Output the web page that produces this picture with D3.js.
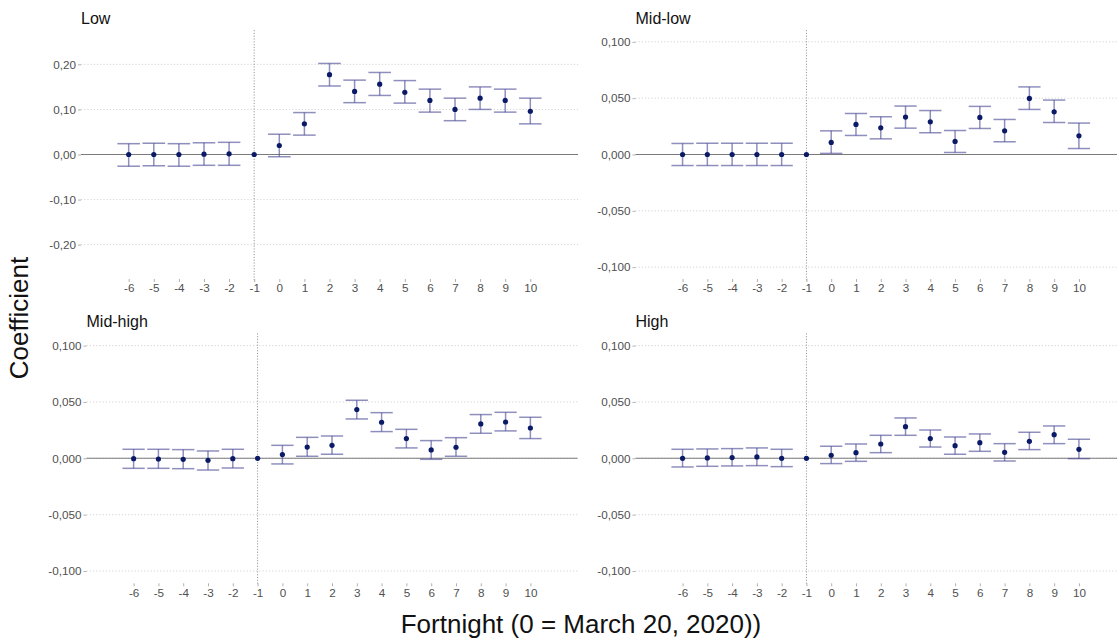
<!DOCTYPE html>
<html>
<head>
<meta charset="utf-8">
<script src="https://cdn.jsdelivr.net/npm/d3@7"></script>
<style>
  html, body { margin: 0; padding: 0; background: #fff; }
  svg { display: block; font-family: "Liberation Sans", Arial, sans-serif; }
</style>
</head>
<body>
<svg id="chart" width="1117" height="642"></svg>
<script>
// Event-study coefficients by income group, fortnight -6 … 10 (reference period: -1)
const fortnights = [-6, -5, -4, -3, -2, -1, 0, 1, 2, 3, 4, 5, 6, 7, 8, 9, 10];

const lowCoef = [0.000, 0.000, 0.000, 0.0007, 0.0015, 0, 0.020, 0.068, 0.177, 0.140, 0.156, 0.138, 0.120, 0.100, 0.125, 0.120, 0.096];
const lowLo   = [-0.026, -0.025, -0.026, -0.024, -0.024, null, -0.005, 0.043, 0.152, 0.115, 0.131, 0.114, 0.094, 0.075, 0.100, 0.094, 0.068];
const lowHi   = [0.024, 0.025, 0.024, 0.026, 0.027, null, 0.045, 0.093, 0.202, 0.165, 0.182, 0.164, 0.145, 0.125, 0.150, 0.145, 0.125];

const midLowCoef = [0, 0, 0, 0, 0, 0, 0.0107, 0.0267, 0.0237, 0.0332, 0.029, 0.0116, 0.0329, 0.021, 0.0498, 0.0379, 0.0166];
const midLowLo   = [-0.0098, -0.0098, -0.0098, -0.0098, -0.0098, null, 0.001, 0.0169, 0.0139, 0.0234, 0.0193, 0.0018, 0.0231, 0.0113, 0.040, 0.0284, 0.0053];
const midLowHi   = [0.0098, 0.0100, 0.0100, 0.0100, 0.0100, null, 0.021, 0.0364, 0.0335, 0.043, 0.039, 0.0213, 0.0427, 0.0311, 0.060, 0.0483, 0.0279];

const midHighCoef = [-0.0003, -0.0006, -0.0009, -0.0018, -0.0003, 0, 0.0033, 0.010, 0.0115, 0.0432, 0.032, 0.0175, 0.0074, 0.0098, 0.0305, 0.0322, 0.0269];
const midHighLo   = [-0.0089, -0.0089, -0.0092, -0.0104, -0.0086, null, -0.005, 0.0018, 0.0036, 0.0349, 0.0237, 0.0092, -0.0009, 0.0018, 0.0222, 0.0243, 0.0175];
const midHighHi   = [0.0080, 0.0080, 0.0077, 0.0065, 0.0080, null, 0.0115, 0.0186, 0.0198, 0.0515, 0.0405, 0.0257, 0.0157, 0.0183, 0.0388, 0.0408, 0.0364];

const highCoef = [0, 0.0003, 0.0006, 0.0012, 0, 0, 0.0027, 0.005, 0.0127, 0.0281, 0.0175, 0.0112, 0.0139, 0.0053, 0.0151, 0.021, 0.008];
const highLo   = [-0.0077, -0.0071, -0.0068, -0.0065, -0.0074, null, -0.0047, -0.0027, 0.005, 0.0204, 0.010, 0.0036, 0.0062, -0.0024, 0.0077, 0.013, -0.0003];
const highHi   = [0.0080, 0.0083, 0.0086, 0.0092, 0.0080, null, 0.0107, 0.0127, 0.0204, 0.0358, 0.0251, 0.0189, 0.0216, 0.013, 0.0231, 0.0287, 0.0169];

const lowTicks = [-0.2, -0.1, 0, 0.1, 0.2];
const otherTicks = [-0.1, -0.05, 0, 0.05, 0.1];

const fmt2 = v => d3.format(".2f")(v).replace("−", "-").replace(".", ",");
const fmt3 = v => d3.format(".3f")(v).replace("−", "-").replace(".", ",");

// Facet layout (pixel boxes of each panel)
const panels = [
  { title: "Low",      coef: lowCoef,     lo: lowLo,     hi: lowHi,     ticks: lowTicks,   fmt: fmt2, yLim: 0.2762,
    box: { left: 81,    right: 578,   top: 30,    bottom: 279 } },
  { title: "Mid-low",  coef: midLowCoef,  lo: midLowLo,  hi: midLowHi,  ticks: otherTicks, fmt: fmt3, yLim: 0.1105,
    box: { left: 635.5, right: 1126,  top: 30,    bottom: 279 } },
  { title: "Mid-high", coef: midHighCoef, lo: midHighLo, hi: midHighHi, ticks: otherTicks, fmt: fmt3, yLim: 0.1109,
    box: { left: 86.5,  right: 577.5, top: 333.3, bottom: 583.3 } },
  { title: "High",     coef: highCoef,    lo: highLo,    hi: highHi,    ticks: otherTicks, fmt: fmt3, yLim: 0.1109,
    box: { left: 635.5, right: 1126,  top: 333.3, bottom: 583.3 } }
];

const svg = d3.select("#chart");
const xPad = 1.9;          // continuous-axis expansion on each side
const capHalf = 0.45;      // half width of error-bar caps, in fortnights
const axisFont = "'Liberation Sans', Arial, sans-serif";

panels.forEach(p => {
  const b = p.box;
  const x = d3.scaleLinear()
    .domain([d3.min(fortnights) - xPad, d3.max(fortnights) + xPad])
    .range([b.left, b.right]);
  const y = d3.scaleLinear().domain([-p.yLim, p.yLim]).range([b.bottom, b.top]);

  const g = svg.append("g");

  // Horizontal dotted grid
  g.selectAll("line.grid").data(p.ticks).join("line")
    .attr("class", "grid")
    .attr("x1", b.left).attr("x2", b.right)
    .attr("y1", d => y(d)).attr("y2", d => y(d))
    .attr("stroke", "#d4d4d4").attr("stroke-width", 1)
    .attr("stroke-dasharray", "1.2,2");

  // Zero reference line
  g.append("line")
    .attr("x1", b.left).attr("x2", b.right)
    .attr("y1", y(0)).attr("y2", y(0))
    .attr("stroke", "#7a7a7a").attr("stroke-width", 1.1);

  // Reference fortnight marker at -1
  g.append("line")
    .attr("x1", x(-1)).attr("x2", x(-1))
    .attr("y1", b.top).attr("y2", b.bottom + 2)
    .attr("stroke", "#9a9a9a").attr("stroke-width", 1)
    .attr("stroke-dasharray", "1.2,1.6");

  // Y axis
  const yAxis = d3.axisLeft(y).tickValues(p.ticks).tickFormat(p.fmt)
    .tickSize(3).tickPadding(2);
  const ya = g.append("g").attr("transform", `translate(${b.left},0)`).call(yAxis);
  ya.select(".domain").remove();
  ya.selectAll(".tick line").attr("stroke", "#b0b0b0");
  ya.selectAll(".tick text").style("fill", "#505050").attr("font-size", "11.7px")
    .attr("font-family", axisFont);

  // X axis
  const xAxis = d3.axisBottom(x).tickValues(fortnights).tickFormat(d3.format("d"))
    .tickSize(3).tickPadding(2);
  const xa = g.append("g").attr("transform", `translate(0,${b.bottom})`).call(xAxis);
  xa.select(".domain").remove();
  xa.selectAll(".tick line").attr("stroke", "#b0b0b0");
  xa.selectAll(".tick text").style("fill", "#505050").attr("font-size", "11.7px")
    .attr("font-family", axisFont)
    .text(d => String(d).replace("−", "-"));

  // Error bars
  const rows = fortnights.map((f, i) => ({ f, c: p.coef[i], lo: p.lo[i], hi: p.hi[i] }));
  const eb = g.selectAll("g.eb").data(rows.filter(r => r.lo !== null)).join("g").attr("class", "eb")
    .attr("stroke", "#4b4b96").attr("stroke-opacity", 0.62).attr("stroke-width", 1.5);
  eb.append("line")
    .attr("x1", d => x(d.f)).attr("x2", d => x(d.f))
    .attr("y1", d => y(d.lo)).attr("y2", d => y(d.hi));
  eb.append("line")
    .attr("x1", d => x(d.f - capHalf)).attr("x2", d => x(d.f + capHalf))
    .attr("y1", d => y(d.hi)).attr("y2", d => y(d.hi));
  eb.append("line")
    .attr("x1", d => x(d.f - capHalf)).attr("x2", d => x(d.f + capHalf))
    .attr("y1", d => y(d.lo)).attr("y2", d => y(d.lo));

  // Point estimates
  g.selectAll("circle.pt").data(rows).join("circle").attr("class", "pt")
    .attr("cx", d => x(d.f)).attr("cy", d => y(d.c)).attr("r", 2.6)
    .attr("fill", "#0b1a66");

  // Facet title
  g.append("text")
    .attr("x", b.left).attr("y", b.top - 6.5)
    .attr("font-size", "16px").attr("fill", "#111")
    .text(p.title);
});

// Shared axis titles
svg.append("text")
  .attr("transform", "translate(28,318) rotate(-90)")
  .attr("text-anchor", "middle")
  .attr("font-size", "26px").attr("fill", "#111")
  .text("Coefficient");

svg.append("text")
  .attr("x", 581).attr("y", 633)
  .attr("text-anchor", "middle")
  .attr("font-size", "26px").attr("fill", "#111")
  .text("Fortnight (0 = March 20, 2020))");
</script>
</body>
</html>
